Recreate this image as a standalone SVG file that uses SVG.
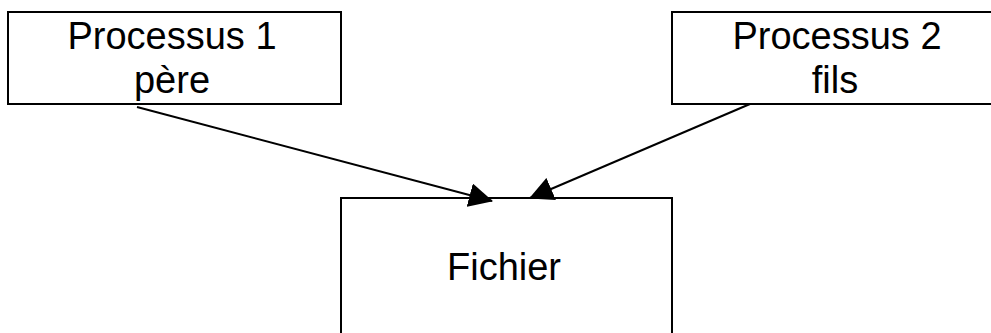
<svg xmlns="http://www.w3.org/2000/svg" width="991" height="333" viewBox="0 0 991 333">
<style>
.box{fill:#fff;stroke:#000;stroke-width:2}
.t{font-family:"Liberation Sans",Arial,sans-serif;font-size:38px;fill:#000;text-anchor:middle}
.c{stroke:#000;stroke-width:2;fill:none;marker-end:url(#ah)}
</style>
<defs>
<marker id="ah" markerUnits="userSpaceOnUse" viewBox="0 0 24 24" refX="23" refY="12" markerWidth="24" markerHeight="24" orient="auto">
<path d="M0,0 L24,12 L0,24 z" fill="#000"/>
</marker>
</defs>
<rect width="991" height="333" fill="#fff"/>
<g id="p1">
<rect class="box" x="8" y="12" width="333" height="92"/>
<text class="t" x="172" y="49">Processus 1</text>
<text class="t" x="172" y="93">père</text>
</g>
<g id="p2">
<rect class="box" x="672" y="12" width="330" height="92"/>
<text class="t" x="837" y="49">Processus 2</text>
<text class="t" x="835" y="93">fils</text>
</g>
<g id="fichier">
<rect class="box" x="341" y="198" width="331" height="150"/>
<text class="t" x="504" y="280">Fichier</text>
</g>
<g id="connectors">
<line class="c" x1="137" y1="107" x2="492" y2="201"/>
<line class="c" x1="750" y1="104" x2="530" y2="198"/>
</g>
</svg>
